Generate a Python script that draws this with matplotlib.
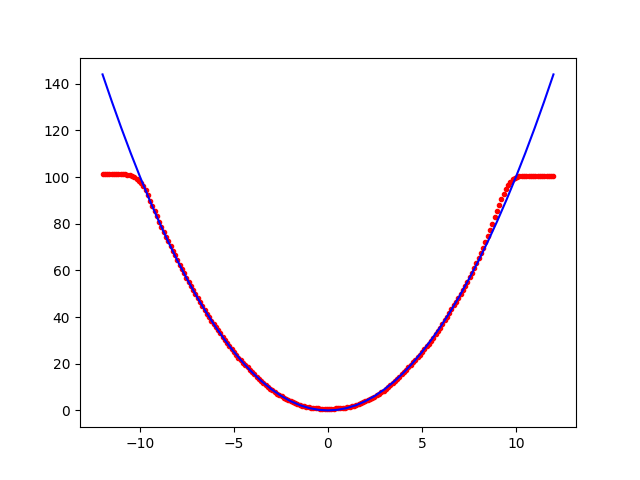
import numpy as np
import matplotlib
matplotlib.use("Agg")
import matplotlib.pyplot as plt

# Red predicted points: 200 samples evenly spaced over [-12, 12]
x_start, x_end, n_points = -12, 12, 200
pred_y = [
    101.4, 101.4, 101.4, 101.4, 101.4, 101.4, 101.3, 101.3, 101.3, 101.2,
    101.1, 101.0, 100.8, 100.5, 100.0, 99.3, 98.4, 97.3, 96.0, 94.6,
    92.3, 89.9, 87.6, 85.3, 83.1, 80.9, 78.7, 76.6, 74.5, 72.5,
    70.5, 68.4, 66.4, 64.4, 62.5, 60.6, 58.8, 56.9, 55.1, 53.4,
    51.6, 49.9, 48.2, 46.5, 44.7, 43.1, 41.5, 39.9, 38.4, 37.0,
    35.7, 34.3, 33.0, 31.6, 30.2, 28.9, 27.6, 26.4, 25.1, 23.9,
    22.6, 21.5, 20.4, 19.3, 18.4, 17.4, 16.4, 15.4, 14.4, 13.4,
    12.5, 11.6, 10.8, 10.0, 9.3, 8.6, 7.9, 7.2, 6.6, 6.0,
    5.4, 4.9, 4.4, 3.9, 3.5, 3.1, 2.7, 2.3, 2.0, 1.7,
    1.5, 1.3, 1.1, 1.0, 0.9, 0.9, 0.8, 0.8, 0.8, 0.8,
    0.8, 0.8, 0.8, 0.9, 0.9, 1.0, 1.1, 1.2, 1.4, 1.6,
    1.8, 2.1, 2.4, 2.8, 3.1, 3.5, 3.9, 4.3, 4.8, 5.3,
    5.9, 6.5, 7.1, 7.8, 8.5, 9.3, 10.1, 11.0, 11.8, 12.7,
    13.6, 14.5, 15.5, 16.4, 17.4, 18.4, 19.5, 20.6, 21.7, 22.8,
    23.9, 25.0, 26.2, 27.4, 28.6, 29.9, 31.2, 32.6, 34.0, 35.5,
    37.0, 38.6, 40.2, 41.8, 43.4, 45.0, 46.6, 48.3, 50.0, 51.7,
    53.4, 55.2, 57.1, 59.1, 61.1, 63.2, 65.3, 67.5, 69.8, 72.2,
    74.7, 77.3, 80.0, 82.7, 85.4, 88.0, 90.5, 92.8, 94.8, 96.6,
    98.0, 99.0, 99.7, 100.1, 100.3, 100.4, 100.4, 100.4, 100.5, 100.5,
    100.5, 100.5, 100.5, 100.5, 100.5, 100.5, 100.5, 100.4, 100.4, 100.4,
]

# Blue true curve sampled at these x values
true_x = [-12, -11.5, -11, -10.5, -10, -9.5, -9, -8.5, -8, -7.5, -7, -6.5, -6,
          -5.5, -5, -4.5, -4, -3.5, -3, -2.5, -2, -1.5, -1, -0.5, 0,
          0.5, 1, 1.5, 2, 2.5, 3, 3.5, 4, 4.5, 5, 5.5, 6, 6.5, 7,
          7.5, 8, 8.5, 9, 9.5, 10, 10.5, 11, 11.5, 12]
true_y = [144, 132.25, 121, 110.25, 100, 90.25, 81, 72.25, 64, 56.25, 49, 42.25, 36,
          30.25, 25, 20.25, 16, 12.25, 9, 6.25, 4, 2.25, 1, 0.25, 0,
          0.25, 1, 2.25, 4, 6.25, 9, 12.25, 16, 20.25, 25, 30.25, 36, 42.25, 49,
          56.25, 64, 72.25, 81, 90.25, 100, 110.25, 121, 132.25, 144]

pred_x = np.linspace(x_start, x_end, n_points)

fig, ax = plt.subplots(figsize=(6.4, 4.8), dpi=100)
ax.plot(pred_x, pred_y, 'r.')
ax.plot(true_x, true_y, 'b-')
fig.savefig("out.png")
